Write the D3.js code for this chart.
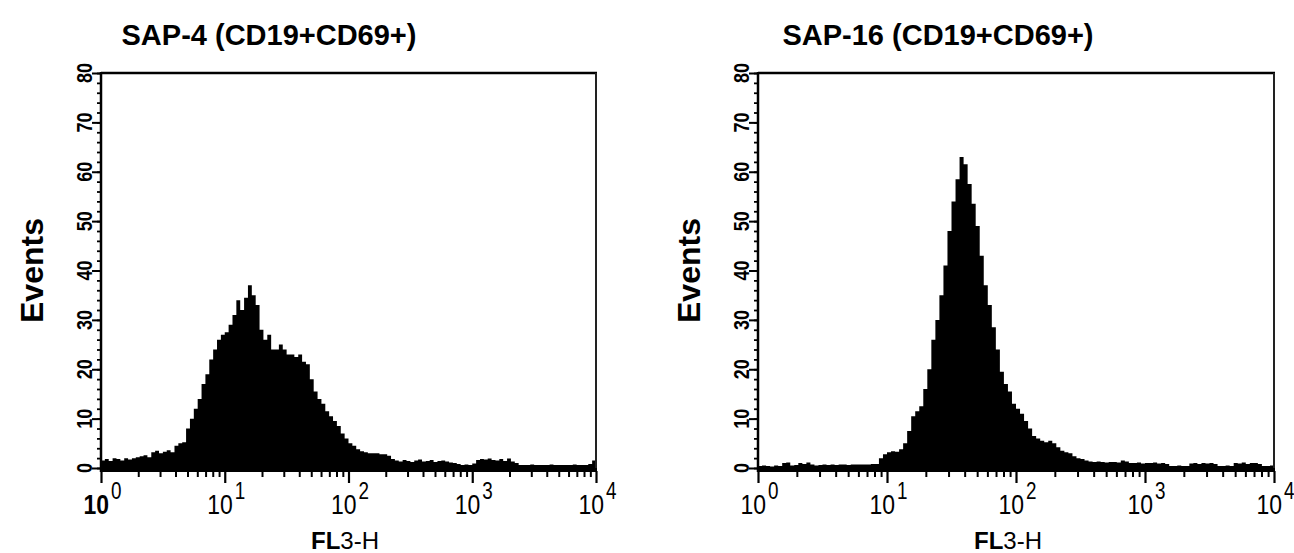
<!DOCTYPE html>
<html><head><meta charset="utf-8">
<script src="https://cdn.jsdelivr.net/npm/d3@7"></script>
<style>body{margin:0;background:#fff}svg{display:block}</style>
</head><body>
<svg id="chart" width="1294" height="553"></svg>
<script>
// ---- data ----
const channelsPerDecade = 32;
const decadeExponents = [0, 1, 2, 3, 4];
const yMajorTicks = [0, 10, 20, 30, 40, 50, 60, 70, 80];
const yMinorTicks = d3.range(0, 81, 2);
const panelTitles = ["SAP-4 (CD19+CD69+)", "SAP-16 (CD19+CD69+)"];
const yLabel = "Events";
const xLabelBold = "FL";
const xLabelRest = "3-H";

// SAP-4 events per channel (128 channels, 10^0 .. 10^4)
const sap4Events = [
  1.5, 1.8, 1.4, 2.0, 1.8, 1.5, 2.0, 1.7, 2.0, 2.2,
  2.4, 2.6, 2.2, 3.2, 3.5, 3.0, 3.3, 3.6, 3.2, 4.5,
  5.0, 5.2, 8.0, 10.0, 12.0, 14.0, 17.0, 19.0, 22.0, 24.0,
  26.0, 27.0, 27.5, 29.0, 31.0, 34.0, 32.0, 34.5, 37.0, 35.0,
  33.0, 28.0, 26.0, 27.0, 24.0, 24.0, 25.0, 24.0, 23.0, 23.0,
  22.5, 23.0, 21.5, 21.0, 18.0, 15.5, 14.0, 13.0, 11.5, 10.5,
  9.5, 8.5, 7.0, 6.0, 5.0, 4.5, 3.8, 3.4, 3.2, 3.0,
  3.0, 3.0, 2.8, 2.8, 2.5, 1.8, 1.5, 1.3, 1.6, 1.4,
  1.2, 1.5, 1.7, 1.3, 1.4, 1.6, 1.2, 1.4, 1.5, 1.3,
  1.1, 1.0, 0.8, 0.6, 0.7, 0.6, 0.9, 1.6, 1.8, 1.7,
  1.9, 1.6, 1.5, 1.8, 1.4, 1.9, 1.3, 1.0, 0.6, 0.6,
  0.6, 0.7, 0.6, 0.6, 0.6, 0.6, 0.7, 0.6, 0.6, 0.6,
  0.6, 0.6, 0.7, 0.6, 0.6, 0.6, 0.8, 1.5
];

// SAP-16 events per channel (128 channels, 10^0 .. 10^4)
const sap16Events = [
  0.4, 0.5, 0.4, 0.3, 0.5, 0.4, 1.0, 1.1, 0.5, 0.6,
  1.0, 0.8, 1.1, 0.7, 0.5, 0.6, 0.7, 0.6, 0.7, 0.6,
  0.7, 0.7, 0.6, 0.7, 0.7, 0.7, 0.7, 0.7, 0.8, 0.8,
  2.0, 2.8, 3.2, 3.4, 3.3, 3.8, 5.0, 7.5, 10.5, 11.5,
  12.5, 16.0, 20.0, 26.0, 30.0, 35.0, 41.0, 48.0, 54.0, 58.5,
  63.0, 61.5, 57.5, 53.5, 49.0, 43.0, 37.0, 33.0, 28.5, 24.0,
  19.5, 17.0, 15.5, 13.0, 12.0, 11.0, 9.5, 8.0, 6.5, 6.0,
  5.5, 5.2, 5.5, 5.0, 4.2, 3.5, 3.2, 3.0, 2.4, 2.0,
  1.8, 1.5, 1.3, 1.2, 1.3, 1.2, 1.1, 1.2, 1.2, 1.1,
  1.5, 1.3, 1.0, 1.0, 1.1, 0.9, 1.0, 1.0, 1.1, 0.9,
  1.0, 0.8, 0.4, 0.4, 0.5, 0.4, 0.4, 0.9, 1.0, 0.8,
  1.0, 0.9, 1.0, 0.8, 0.4, 0.4, 0.5, 0.4, 1.0, 0.9,
  1.1, 0.8, 1.0, 1.0, 0.8, 0.4, 0.4, 0.5
];

const seriesList = [sap4Events, sap16Events];

// ---- layout ----
const panels = [
  { left: 101, right: 596, titleX: 269, xLabelX: 345 },
  { left: 758, right: 1274, titleX: 938, xLabelX: 1008 }
];
const yTop = 73, yZero = 468;
const FONT = "Liberation Sans, Arial, sans-serif";

const svg = d3.select("#chart");

panels.forEach((p, k) => {
  const data = seriesList[k];
  const g = svg.append("g");
  const x = d3.scaleLog().domain([1, 1e4]).range([p.left, p.right]);
  const y = d3.scaleLinear().domain([0, 80]).range([yZero, yTop]);

  // histogram
  const pts = data.map((v, i) => ({ e: Math.pow(10, i / channelsPerDecade), v }));
  pts.push({ e: 1e4, v: data[data.length - 1] });
  const area = d3.area().curve(d3.curveStepAfter)
    .x(d => x(d.e)).y0(y(0)).y1(d => y(d.v));
  g.append("path").datum(pts).attr("d", area).attr("fill", "#000");

  // frame
  g.append("line").attr("x1", p.left).attr("x2", p.right + 1).attr("y1", yTop).attr("y2", yTop)
    .attr("stroke", "#000").attr("stroke-width", 2.5);
  g.append("line").attr("x1", p.right).attr("x2", p.right).attr("y1", yTop).attr("y2", yZero + 2)
    .attr("stroke", "#222").attr("stroke-width", 2);
  g.append("line").attr("x1", p.left).attr("x2", p.right + 1).attr("y1", yZero + 2).attr("y2", yZero + 2)
    .attr("stroke", "#000").attr("stroke-width", 4);

  // y axis (minor + major)
  const yMinor = g.append("g").attr("transform", `translate(${p.left},0)`)
    .call(d3.axisLeft(y).tickValues(yMinorTicks).tickSize(4).tickFormat(""));
  yMinor.select(".domain").remove();
  yMinor.selectAll(".tick line").attr("stroke-width", 1.8);
  const yMajor = g.append("g").attr("transform", `translate(${p.left},0)`)
    .call(d3.axisLeft(y).tickValues(yMajorTicks).tickSize(9).tickFormat(""));
  yMajor.select(".domain").attr("stroke-width", 2.5).attr("d", `M0,${yTop - 1}V${yZero + 4}`);
  yMajor.selectAll(".tick line").attr("stroke-width", 2);

  // y tick labels (rotated, condensed)
  g.selectAll(".ylab").data(yMajorTicks).enter().append("text")
    .attr("transform", d => `translate(${p.left - 9},${y(d)}) rotate(-90) scale(0.82,1)`)
    .attr("text-anchor", "middle")
    .attr("font-family", FONT)
    .attr("font-weight", "bold")
    .attr("font-size", 22)
    .attr("fill", "#000")
    .text(d => d);

  // y label
  g.append("text")
    .attr("transform", `translate(${p.left - 58},${(yTop + yZero) / 2}) rotate(-90)`)
    .attr("text-anchor", "middle")
    .attr("font-family", FONT)
    .attr("font-weight", "bold").attr("font-size", 32)
    .text(yLabel);

  // x axis ticks
  const minorVals = [];
  decadeExponents.slice(0, -1).forEach(e => {
    for (let m = 2; m <= 9; m++) minorVals.push(m * Math.pow(10, e));
  });
  const xMinor = g.append("g").attr("transform", `translate(0,${yZero + 3})`)
    .call(d3.axisBottom(x).tickValues(minorVals).tickSize(6).tickFormat(""));
  xMinor.select(".domain").remove();
  xMinor.selectAll(".tick line").attr("stroke-width", 2);
  const majorVals = decadeExponents.map(e => Math.pow(10, e));
  const xMajor = g.append("g").attr("transform", `translate(0,${yZero + 3})`)
    .call(d3.axisBottom(x).tickValues(majorVals).tickSize(12).tickFormat(""));
  xMajor.select(".domain").remove();
  xMajor.selectAll(".tick line").attr("stroke-width", 2.2);

  // x tick labels 10^n
  decadeExponents.forEach(e => {
    const tx = x(Math.pow(10, e));
    g.append("text")
      .attr("transform", `translate(${tx + 8},514) scale(0.82,1)`)
      .attr("text-anchor", "end")
      .attr("font-family", FONT)
      .attr("font-weight", e === 0 && k === 0 ? "bold" : "normal")
      .attr("font-size", 28)
      .text("10");
    g.append("text")
      .attr("transform", `translate(${tx + 10},499) scale(0.82,1)`)
      .attr("text-anchor", "start")
      .attr("font-family", FONT)
      .attr("font-size", 23)
      .text(e);
  });

  // x label
  const xl = g.append("text")
    .attr("x", p.xLabelX).attr("y", 549)
    .attr("text-anchor", "middle")
    .attr("font-family", FONT)
    .attr("font-size", 24);
  xl.append("tspan").attr("font-weight", "bold").text(xLabelBold);
  xl.append("tspan").text(xLabelRest);

  // title
  g.append("text")
    .attr("x", p.titleX).attr("y", 45)
    .attr("text-anchor", "middle")
    .attr("font-family", FONT)
    .attr("font-weight", "bold").attr("font-size", 29)
    .text(panelTitles[k]);
});
</script>
</body></html>
